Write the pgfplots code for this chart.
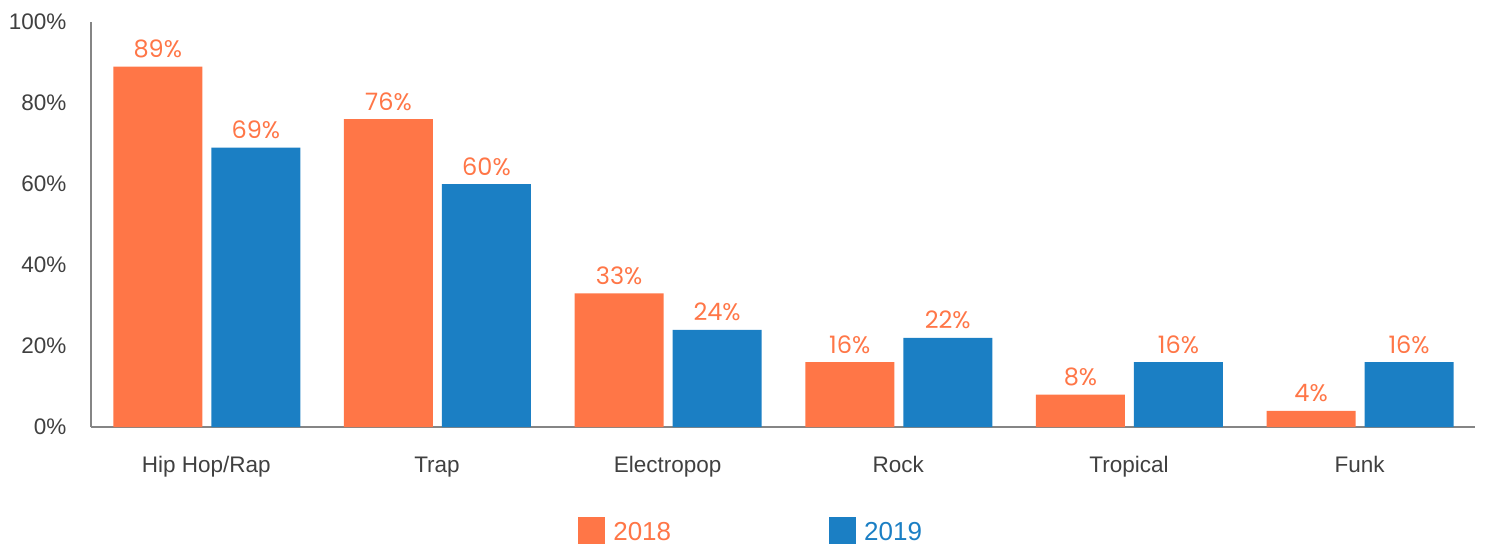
\documentclass[border=0pt]{standalone}
\usepackage{pgfplots}
\pgfplotsset{compat=1.18}
\usepackage{fontspec}
\setmainfont{Liberation Sans}
\newfontfamily\poppins{Poppins}

\definecolor{c2018}{HTML}{FF7647}
\definecolor{c2019}{HTML}{1B7FC4}
\definecolor{axisgray}{HTML}{858585}
\definecolor{txt}{HTML}{404040}

\begin{document}
\begin{tikzpicture}
\useasboundingbox (-91pt,-117pt) rectangle (1394pt,427pt);
\begin{axis}[
    at={(0pt,0pt)}, anchor=south west,
    scale only axis,
    width=1384pt, height=405pt,
    xmin=-0.5, xmax=5.5,
    ymin=0, ymax=100,
    axis x line=bottom, axis y line=left,
    axis line style={axisgray, line width=1.6pt, -},
    xtick={0,1,2,3,4,5},
    xticklabels={Hip Hop/Rap, Trap, Electropop, Rock, Tropical, Funk},
    ytick={0,20,40,60,80,100},
    yticklabel={\pgfmathprintnumber{\tick}\%},
    /pgf/number format/assume math mode=true,
    major tick length=0pt,
    tick label style={font=\fontsize{22.5}{26}\selectfont, text=txt},
    yticklabel style={anchor=east, xshift=-21pt},
    xticklabel style={anchor=north, yshift=-26pt},
    ybar, bar width=89pt,
    nodes near coords={\pgfmathprintnumber{\pgfplotspointmeta}\%},
    every node near coord/.append style={font=\poppins\fontsize{24}{28}\selectfont, text=c2018, anchor=base, inner sep=0pt, yshift=9pt},
    clip=false,
    legend style={at={(0.477,-117pt)}, anchor=south, draw=none, fill=none,
        legend columns=2, font=\fontsize{26}{30}\selectfont,
        /tikz/every odd column/.append style={column sep=6pt},
        /tikz/every even column/.append style={column sep=156pt},
        inner sep=0pt, outer sep=0pt},
    legend image code/.code={\fill (0pt,-12pt) rectangle (27pt,15pt);},
]
\addplot[fill=c2018, draw=none, bar shift=-48.5pt] coordinates {(0,89) (1,76) (2,33) (3,16) (4,8) (5,4)};
\addlegendentry{\textcolor{c2018}{2018}}
\addplot[fill=c2019, draw=none, bar shift=49.5pt] coordinates {(0,69) (1,60) (2,24) (3,22) (4,16) (5,16)};
\addlegendentry{\textcolor{c2019}{2019}}
\end{axis}
\end{tikzpicture}
\end{document}
